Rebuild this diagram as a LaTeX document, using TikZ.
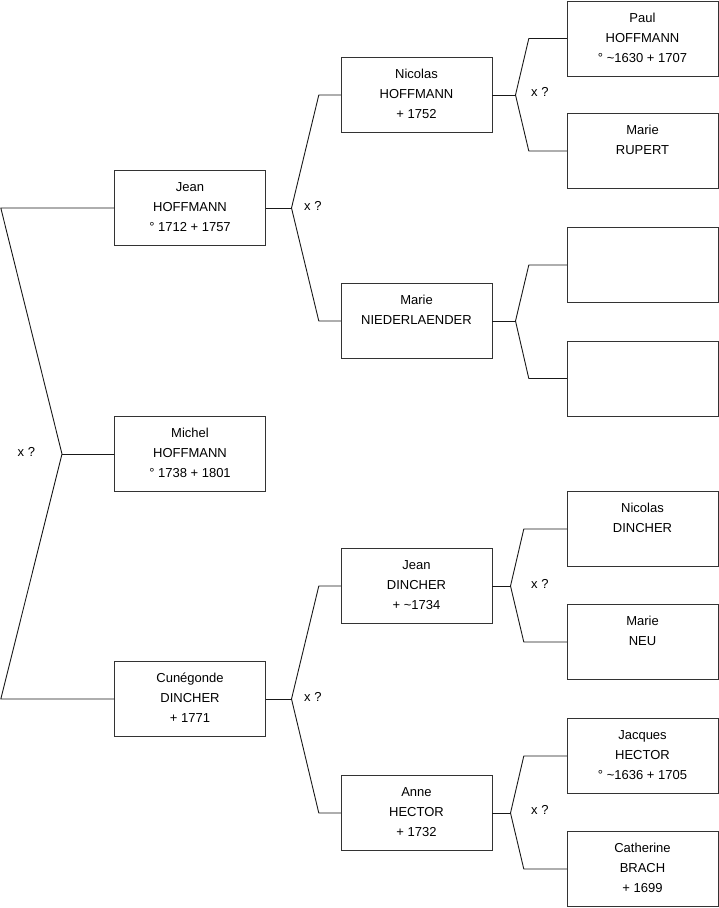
\documentclass[tikz,border=0pt]{standalone}
\usepackage{fontspec}
\setmainfont{Liberation Sans}
\usepackage{tikz}

\begin{document}
\begin{tikzpicture}[
    x=1pt, y=-1pt,
    person/.style={draw=black!80, fill=white, minimum width=151pt, minimum height=75pt, inner sep=0pt, align=center,
        font=\fontsize{13pt}{20pt}\selectfont, text height=47.5pt, text depth=0pt},
    link/.style={draw=black!90, line width=0.9pt, line join=round},
    xq/.style={font=\fontsize{13pt}{16pt}\selectfont, inner sep=0pt, anchor=west}
]
\useasboundingbox (0,0) rectangle (719,908);

% Generation 1 and 2
\node[person] (michel) at (190,454) {Michel\\HOFFMANN\\° 1738 + 1801};
\node[person] (jeanH) at (190,208) {Jean\\HOFFMANN\\° 1712 + 1757};
\node[person] (cunegonde) at (190,699) {Cunégonde\\DINCHER\\+ 1771};

% Generation 3
\node[person] (nicolasH) at (416.5,95) {Nicolas\\HOFFMANN\\+ 1752};
\node[person] (marieN) at (416.5,321) {Marie\\NIEDERLAENDER\\{}};
\node[person] (jeanD) at (416.5,586) {Jean\\DINCHER\\+ \textasciitilde1734};
\node[person] (anne) at (416.5,813) {Anne\\HECTOR\\+ 1732};

% Generation 4
\node[person] (paul) at (642.5,38.5) {Paul\\HOFFMANN\\° \textasciitilde1630 + 1707};
\node[person] (rupert) at (642.5,151) {Marie\\RUPERT\\{}};
\node[person] (unknownA) at (642.5,265) {};
\node[person] (unknownB) at (642.5,378.5) {};
\node[person] (nicolasD) at (642.5,529) {Nicolas\\DINCHER\\{}};
\node[person] (marieNeu) at (642.5,642) {Marie\\NEU\\{}};
\node[person] (jacques) at (642.5,756) {Jacques\\HECTOR\\° \textasciitilde1636 + 1705};
\node[person] (catherine) at (642.5,869) {Catherine\\BRACH\\+ 1699};

% Joints
\coordinate (jRoot) at (62,454);
\coordinate (jJeanH) at (291.5,208);
\coordinate (jCunegonde) at (291.5,699);
\coordinate (jNicolasH) at (515.5,95);
\coordinate (jMarieN) at (515.5,321);
\coordinate (jJeanD) at (510.5,586);
\coordinate (jAnne) at (510.5,813);

% Parents
\draw[link] (michel.west) -- (jRoot);
\draw[link] (jeanH.west) -- ++(-113.5,0) -- (jRoot) -- ([xshift=-113.5pt]cunegonde.west) -- (cunegonde.west);

\draw[link] (jeanH.east) -- (jJeanH);
\draw[link] (nicolasH.west) -- ++(-22,0) -- (jJeanH) -- ([xshift=-22pt]marieN.west) -- (marieN.west);

\draw[link] (cunegonde.east) -- (jCunegonde);
\draw[link] (jeanD.west) -- ++(-22,0) -- (jCunegonde) -- ([xshift=-22pt]anne.west) -- (anne.west);

\draw[link] (nicolasH.east) -- (jNicolasH);
\draw[link] (paul.west) -- ++(-38,0) -- (jNicolasH) -- ([xshift=-38pt]rupert.west) -- (rupert.west);

\draw[link] (marieN.east) -- (jMarieN);
\draw[link] (unknownA.west) -- ++(-38,0) -- (jMarieN) -- ([xshift=-38pt]unknownB.west) -- (unknownB.west);

\draw[link] (jeanD.east) -- (jJeanD);
\draw[link] (nicolasD.west) -- ++(-43,0) -- (jJeanD) -- ([xshift=-43pt]marieNeu.west) -- (marieNeu.west);

\draw[link] (anne.east) -- (jAnne);
\draw[link] (jacques.west) -- ++(-43,0) -- (jAnne) -- ([xshift=-43pt]catherine.west) -- (catherine.west);

% Marriage marks
\node[xq] (xRoot) at (17.5,452) {x ?};
\node[xq] (xJeanH) at (304,206) {x ?};
\node[xq] (xCunegonde) at (304,697) {x ?};
\node[xq] (xNicolasH) at (531,92) {x ?};
\node[xq] (xJeanD) at (531,584) {x ?};
\node[xq] (xAnne) at (531,810) {x ?};

\end{tikzpicture}
\end{document}
